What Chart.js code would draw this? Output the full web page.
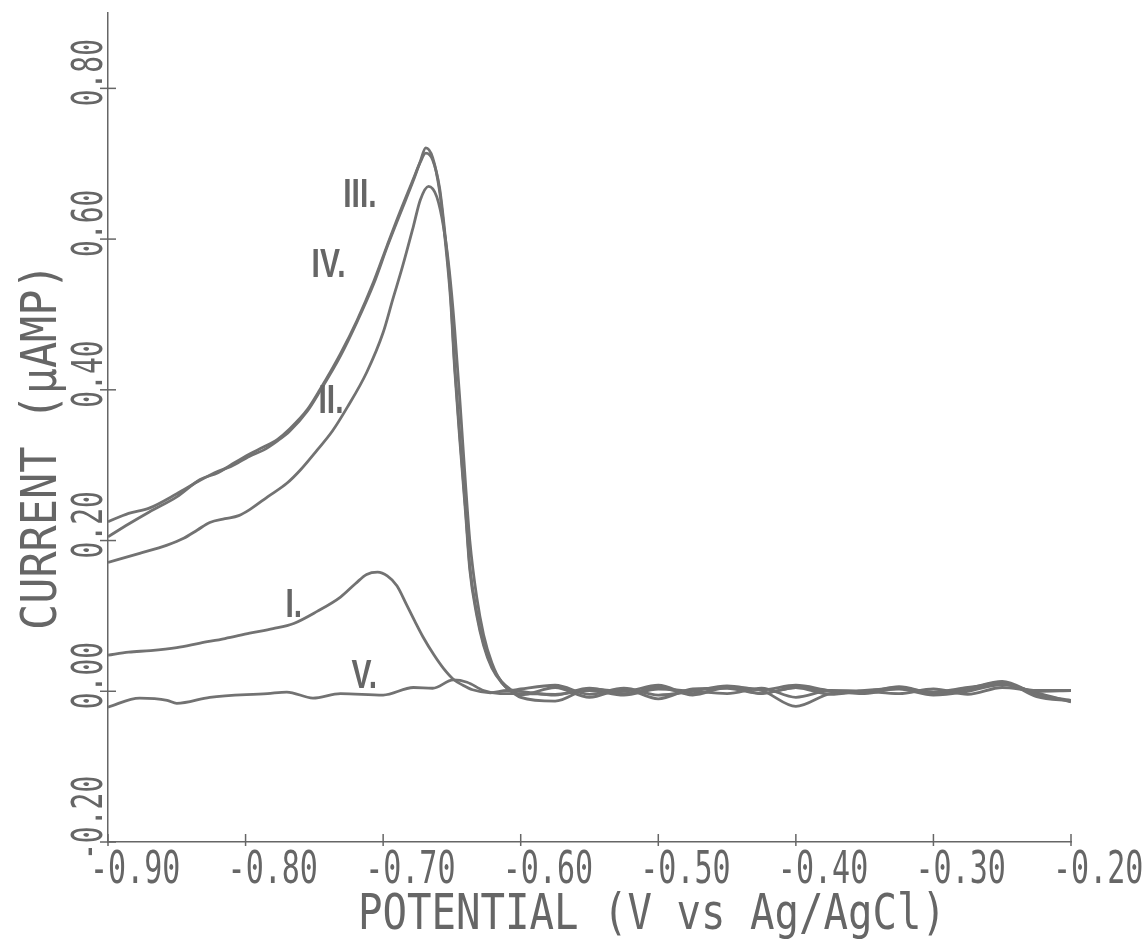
<!DOCTYPE html>
<html>
<head>
<meta charset="utf-8">
<script src="https://cdn.jsdelivr.net/npm/chart.js@4.4.0/dist/chart.umd.min.js"></script>
<style>
  html, body { margin: 0; padding: 0; background: #fff; }
</style>
</head>
<body>
<canvas id="voltChart" width="1143" height="952"></canvas>
<script>
const xTicks = [-0.90, -0.80, -0.70, -0.60, -0.50, -0.40, -0.30, -0.20];
const yTicks = [-0.20, 0.00, 0.20, 0.40, 0.60, 0.80];
const curveNames = ['I.', 'II.', 'III.', 'IV.', 'V.'];

const tailPotential = [-0.600, -0.575, -0.550, -0.525, -0.500, -0.475, -0.450, -0.425, -0.400,
  -0.375, -0.350, -0.325, -0.300, -0.275, -0.250, -0.225, -0.200];

const potentialI = [-0.900, -0.885, -0.869, -0.850, -0.833, -0.815, -0.797, -0.780, -0.765, -0.748,
  -0.731, -0.720, -0.712, -0.704, -0.697, -0.690, -0.683, -0.677, -0.671, -0.663, -0.656, -0.649,
  -0.642, -0.635, -0.622, -0.610];
const currentI = [0.048, 0.052, 0.054, 0.058, 0.064, 0.070, 0.077, 0.083, 0.090, 0.106,
  0.125, 0.143, 0.155, 0.158, 0.153, 0.140, 0.115, 0.093, 0.072, 0.048, 0.030, 0.016,
  0.008, 0.002, -0.002, 0.001];
const tailI = [0.000, -0.005, 0.004, -0.003, 0.005, -0.004, 0.006, -0.003, 0.005, 0.000, -0.003,
  0.004, -0.001, 0.005, 0.010, 0.000, 0.001];

const potentialII = [-0.900, -0.877, -0.857, -0.845, -0.835, -0.826, -0.815, -0.805, -0.797, -0.784,
  -0.770, -0.760, -0.748, -0.737, -0.726, -0.712, -0.700, -0.693, -0.686, -0.678, -0.673, -0.667,
  -0.661, -0.656, -0.652, -0.648, -0.644, -0.640, -0.637, -0.632, -0.627, -0.621, -0.614, -0.607];
const currentII = [0.171, 0.183, 0.194, 0.203, 0.214, 0.224, 0.229, 0.233, 0.241, 0.258,
  0.276, 0.294, 0.320, 0.345, 0.377, 0.423, 0.476, 0.520, 0.563, 0.617, 0.652, 0.670,
  0.656, 0.615, 0.560, 0.480, 0.380, 0.272, 0.200, 0.125, 0.075, 0.038, 0.012, 0.000];
const tailII = [-0.008, -0.013, 0.003, 0.000, 0.008, -0.005, 0.005, 0.001, -0.020, -0.003, 0.000,
  0.005, -0.004, 0.003, 0.012, -0.007, -0.013];

const potentialIII = [-0.900, -0.885, -0.870, -0.850, -0.833, -0.820, -0.811, -0.797, -0.787, -0.777,
  -0.768, -0.755, -0.746, -0.731, -0.719, -0.707, -0.697, -0.688, -0.678, -0.673, -0.669, -0.664,
  -0.659, -0.655, -0.651, -0.648, -0.644, -0.640, -0.637, -0.632, -0.627, -0.621, -0.614, -0.607];
const currentIII = [0.225, 0.236, 0.243, 0.262, 0.280, 0.292, 0.298, 0.312, 0.320, 0.332,
  0.345, 0.372, 0.398, 0.445, 0.490, 0.540, 0.590, 0.632, 0.678, 0.703, 0.721, 0.708,
  0.664, 0.600, 0.520, 0.427, 0.327, 0.234, 0.161, 0.101, 0.061, 0.031, 0.012, 0.001];
const tailIII = [0.003, 0.008, -0.004, 0.004, -0.005, 0.000, 0.007, 0.002, 0.008, 0.001, -0.001,
  0.006, -0.002, 0.004, 0.013, -0.004, -0.012];

const potentialIV = [-0.900, -0.885, -0.870, -0.850, -0.833, -0.820, -0.811, -0.797, -0.787, -0.777,
  -0.768, -0.755, -0.746, -0.731, -0.719, -0.707, -0.697, -0.688, -0.678, -0.673, -0.669, -0.664,
  -0.659, -0.655, -0.651, -0.648, -0.644, -0.640, -0.637, -0.632, -0.627, -0.621, -0.614, -0.607];
const currentIV = [0.205, 0.222, 0.238, 0.258, 0.281, 0.290, 0.300, 0.315, 0.324, 0.334,
  0.348, 0.374, 0.400, 0.448, 0.492, 0.543, 0.592, 0.635, 0.680, 0.702, 0.714, 0.705,
  0.668, 0.606, 0.527, 0.433, 0.333, 0.240, 0.166, 0.105, 0.064, 0.033, 0.013, 0.002];
const tailIV = [-0.005, 0.005, -0.008, 0.003, -0.010, 0.003, 0.004, -0.003, 0.005, -0.004, 0.001,
  0.003, -0.005, 0.000, 0.009, -0.002, -0.014];

const potentialV = [-0.900, -0.877, -0.857, -0.850, -0.826, -0.784, -0.770, -0.751, -0.731, -0.700,
  -0.678, -0.664, -0.649, -0.639, -0.627, -0.615];
const currentV = [-0.021, -0.009, -0.012, -0.016, -0.008, -0.003, -0.001, -0.009, -0.003, -0.005,
  0.005, 0.004, 0.015, 0.012, 0.001, -0.003];
const tailV = [-0.003, -0.004, 0.001, -0.005, 0.003, 0.000, -0.003, 0.004, -0.008, 0.001, 0.000,
  -0.003, 0.003, -0.004, 0.005, 0.001, 0.001];

// where the roman numerals sit, in data units (left edge, baseline)
const labelAnchors = [[-0.771, 0.098], [-0.747, 0.369], [-0.729, 0.642], [-0.752, 0.550], [-0.723, 0.005]];

const lineColor = '#727272';
const inkColor = '#666666';

function points(px, py, tail) {
  const pts = px.map((v, i) => ({ x: v, y: py[i] }));
  tailPotential.forEach((v, i) => pts.push({ x: v, y: tail[i] }));
  return pts;
}

function squashText(ctx, text, x, y, sx, angle) {
  ctx.save();
  ctx.translate(x, y);
  ctx.rotate(angle);
  ctx.scale(sx, 1);
  ctx.fillText(text, 0, 0);
  ctx.restore();
}

const plotterMarks = {
  id: 'plotterMarks',
  afterDraw(chart) {
    const { ctx, scales: { x, y } } = chart;
    const x0 = x.getPixelForValue(xTicks[0]);
    const y0 = y.getPixelForValue(yTicks[0]);
    ctx.save();
    ctx.strokeStyle = inkColor;
    ctx.lineWidth = 1.5;
    xTicks.forEach(v => {
      const px = x.getPixelForValue(v);
      ctx.beginPath(); ctx.moveTo(px, y0 - 8); ctx.lineTo(px, y0 + 4); ctx.stroke();
    });
    yTicks.forEach(v => {
      const py = y.getPixelForValue(v);
      ctx.beginPath(); ctx.moveTo(x0 - 8, py); ctx.lineTo(x0 + 8, py); ctx.stroke();
    });

    ctx.fillStyle = inkColor;
    ctx.textBaseline = 'alphabetic';
    ctx.textAlign = 'left';
    ctx.font = '45px "DejaVu Sans Mono"';
    xTicks.forEach(v => {
      squashText(ctx, v.toFixed(2), x.getPixelForValue(v) - 18, y0 + 41, 0.667, 0);
    });
    ctx.font = '42px "DejaVu Sans Mono"';
    yTicks.forEach(v => {
      squashText(ctx, v.toFixed(2), x0 - 6, y.getPixelForValue(v) + 18, 0.667, -Math.PI / 2);
    });

    ctx.font = '50px "DejaVu Sans Mono"';
    squashText(ctx, 'POTENTIAL (V vs Ag/AgCl)', x0 + 250, y0 + 87, 0.814, 0);
    squashText(ctx, 'CURRENT (\u00b5AMP)', 56, y0 - 212, 0.87, -Math.PI / 2);

    ctx.font = 'bold 40px "Liberation Sans"';
    curveNames.forEach((name, i) => {
      const [lx, ly] = labelAnchors[i];
      squashText(ctx, name, x.getPixelForValue(lx), y.getPixelForValue(ly), 0.75, 0);
    });
    ctx.restore();
  }
};

const series = [
  points(potentialI, currentI, tailI),
  points(potentialII, currentII, tailII),
  points(potentialIII, currentIII, tailIII),
  points(potentialIV, currentIV, tailIV),
  points(potentialV, currentV, tailV)
];

new Chart(document.getElementById('voltChart'), {
  type: 'line',
  data: {
    datasets: series.map((pts, i) => ({
      label: curveNames[i],
      data: pts,
      borderColor: lineColor,
      borderWidth: 2.8,
      pointRadius: 0,
      fill: false,
      cubicInterpolationMode: 'monotone'
    }))
  },
  options: {
    responsive: false,
    animation: false,
    layout: { padding: { left: 108, right: 72, top: 13, bottom: 110 } },
    plugins: { legend: { display: false }, tooltip: { enabled: false } },
    scales: {
      x: {
        type: 'linear', min: -0.90, max: -0.20,
        grid: { display: false, drawTicks: false },
        border: { display: true, color: inkColor, width: 1.5 },
        ticks: { display: false }
      },
      y: {
        type: 'linear', min: -0.20, max: 0.90,
        grid: { display: false, drawTicks: false },
        border: { display: true, color: inkColor, width: 1.5 },
        ticks: { display: false }
      }
    }
  },
  plugins: [plotterMarks]
});
</script>
</body>
</html>
